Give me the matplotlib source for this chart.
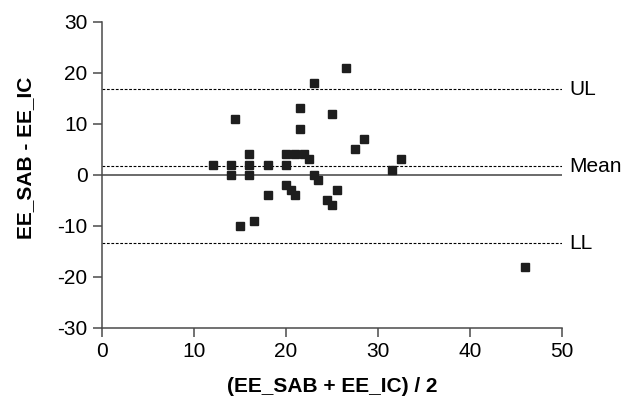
import matplotlib
matplotlib.use("Agg")
import matplotlib.pyplot as plt

plt.rcParams['font.family'] = ['Liberation Sans', 'DejaVu Sans']
plt.rcParams['axes.unicode_minus'] = False

mean_xy = [12, 14, 14, 14.5, 15, 16, 16, 16, 16.5, 18, 18, 20, 20, 20, 20.5, 21, 21,
           21.5, 21.5, 22, 22.5, 23, 23, 23.5, 24.5, 25, 25, 25.5, 26.5, 27.5, 28.5,
           31.5, 32.5, 46]
diff_xy = [2, 2, 0, 11, -10, 4, 2, 0, -9, 2, -4, 4, 2, -2, -3, 4, -4,
           13, 9, 4, 3, 18, 0, -1, -5, 12, -6, -3, 21, 5, 7,
           1, 3, -18]
mean_diff = 1.7
upper_limit = 16.75
lower_limit = -13.4
ref_labels = ["UL", "Mean", "LL"]

fig = plt.figure(figsize=(6.33, 3.97), dpi=100)
ax = fig.add_axes([0.1615, 0.1745, 0.8874 - 0.1615, 0.9453 - 0.1745])

ax.plot([0, 50], [0, 0], color='#6a6a6a', lw=1.4, zorder=2)
for yv in (upper_limit, mean_diff, lower_limit):
    ax.plot([0, 50], [yv, yv], color='black', lw=0.8, ls=(0, (2.5, 1.5)), zorder=2)

ax.plot(mean_xy, diff_xy, 's', color='#1e1e1e', ms=5.2, mec='#1e1e1e', zorder=3)

ax.set_xlim(0, 50)
ax.set_ylim(-30, 30)
ax.set_xticks([0, 10, 20, 30, 40, 50])
ax.set_yticks([-30, -20, -10, 0, 10, 20, 30])
for s in ('top', 'right'):
    ax.spines[s].set_visible(False)
for s in ('left', 'bottom'):
    ax.spines[s].set_color('#4a4a4a')
    ax.spines[s].set_linewidth(1.1)
ax.tick_params(direction='out', length=6.5, width=1.1, color='#4a4a4a',
               labelsize=15, pad=4)

for lab, yv in zip(ref_labels, (upper_limit, mean_diff, lower_limit)):
    ax.text(50.8, yv, lab, fontsize=15, va='center', ha='left', clip_on=False)

fig.text(332 / 633, 1 - 386 / 397, "(EE_SAB + EE_IC) / 2", fontsize=15,
         fontweight='bold', ha='center', va='center')
fig.text(26 / 633, 1 - 158 / 397, "EE_SAB - EE_IC", fontsize=15,
         fontweight='bold', ha='center', va='center', rotation=90)

fig.savefig("out.png", dpi=100)
